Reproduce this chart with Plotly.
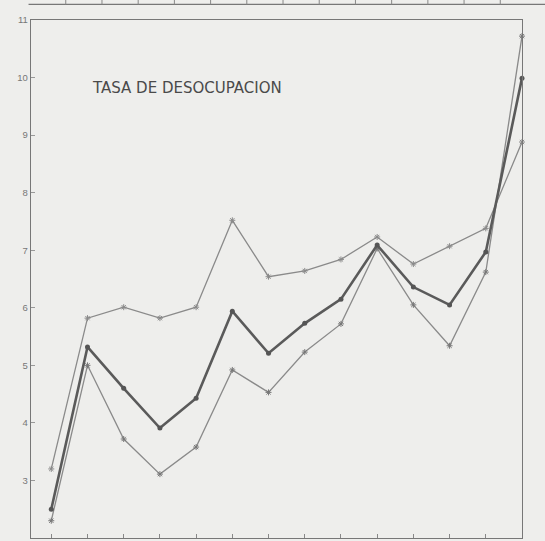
import plotly.graph_objects as go

# Data (unemployment rate, three series)
periodos = list(range(1, 15))
tasa_alta = [3.2, 5.82, 6.01, 5.82, 6.01, 7.52, 6.54, 6.64, 6.84, 7.23, 6.76, 7.07, 7.38, 8.88]
tasa_media = [2.5, 5.32, 4.6, 3.91, 4.43, 5.94, 5.21, 5.73, 6.15, 7.09, 6.36, 6.05, 6.97, 9.99]
tasa_baja = [2.3, 5.0, 3.72, 3.11, 3.58, 4.92, 4.53, 5.23, 5.72, 7.03, 6.05, 5.34, 6.62, 10.72]
y_ticks = [2, 3, 4, 5, 6, 7, 8, 9, 10, 11]
titulo = "TASA DE DESOCUPACION"

BG = "#eeeeec"
fig = go.Figure()

fig.add_trace(go.Scatter(
    x=periodos, y=tasa_alta, mode="lines+markers",
    line=dict(color="#8a8a8a", width=1.3),
    marker=dict(symbol="asterisk-open", size=5, color="#8a8a8a", line=dict(width=1, color="#8a8a8a")),
    cliponaxis=False, showlegend=False, hoverinfo="skip"))
fig.add_trace(go.Scatter(
    x=periodos, y=tasa_baja, mode="lines+markers",
    line=dict(color="#8a8a8a", width=1.3),
    marker=dict(symbol="asterisk-open", size=5, color="#777", line=dict(width=1, color="#777")),
    cliponaxis=False, showlegend=False, hoverinfo="skip"))
fig.add_trace(go.Scatter(
    x=periodos, y=tasa_media, mode="lines+markers",
    line=dict(color="#5a5a5a", width=2.6),
    marker=dict(symbol="circle", size=5, color="#555"),
    cliponaxis=False, showlegend=False, hoverinfo="skip"))

fig.add_annotation(x=0.12, y=0.868, xref="paper", yref="paper", xanchor="left", yanchor="middle",
                   text=titulo, showarrow=False,
                   font=dict(family="DejaVu Sans", size=15, color="#4a4a4a"))

# remnant of table border at top of the page
fig.add_shape(type="line", xref="paper", yref="paper", x0=-0.005, x1=1.05, y0=1.03, y1=1.03,
              line=dict(color="#777", width=1.2))
for p in periodos:
    fig.add_shape(type="line", xref="x", yref="paper", x0=p - 0.6, x1=p - 0.6, y0=1.03, y1=1.05,
                  line=dict(color="#888", width=1))

fig.update_layout(
    width=545, height=541,
    margin=dict(l=31, r=23, t=20, b=3),
    paper_bgcolor=BG, plot_bgcolor=BG,
    xaxis=dict(range=[0.44, 14.0], showgrid=False, zeroline=False, showline=True, mirror=True,
               linecolor="#777", linewidth=1.3, ticks="inside", ticklen=4, tickcolor="#888",
               tickvals=periodos, showticklabels=False),
    yaxis=dict(range=[2, 11], showgrid=False, zeroline=False, showline=True, mirror=True,
               linecolor="#777", linewidth=1.3, ticks="inside", ticklen=4, tickcolor="#999",
               tickvals=y_ticks, ticktext=[str(v) for v in y_ticks],
               tickfont=dict(family="Liberation Sans, Arial", size=9.5, color="#777")),
)

fig.write_html("out.html", config={"displayModeBar": False, "staticPlot": True},
               post_script="document.body.style.margin='0';document.body.style.background='%s';"
                           "document.body.style.overflow='hidden';" % BG)
